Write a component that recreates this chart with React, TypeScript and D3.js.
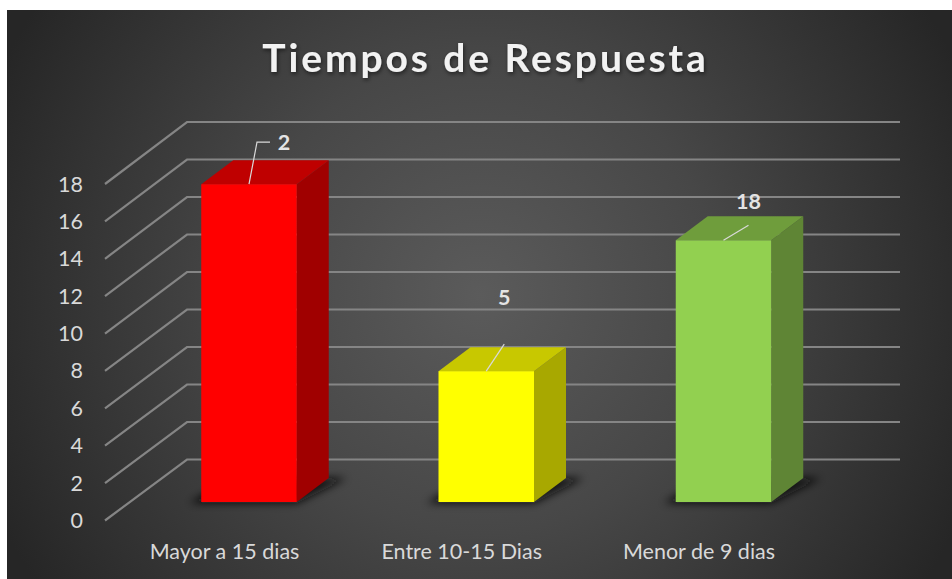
import React from "react";
import * as d3 from "d3";

const categories = ["Mayor a 15 dias", "Entre 10-15 Dias", "Menor de 9 dias"];
const values = [17, 7, 14];
const dataLabels = ["2", "5", "18"];
const frontColors = ["#ff0000", "#ffff00", "#92d050"];
const topColors = ["#bf0000", "#c8c800", "#6f9d3c"];
const sideColors = ["#a00000", "#a8a800", "#5f8535"];
const ticks = [0, 2, 4, 6, 8, 10, 12, 14, 16, 18];

const W = 952, H = 579;
const dx = 32, dy = -24;
const barW = 95.5;
const FONT = "Lato, Carlito, 'Open Sans', sans-serif";

const x = d3.scalePoint<string>().domain(categories).range([249, 723.5]);
const yBar = d3.scaleLinear().domain([0, 18]).range([502, 165.5]);
const yFront = d3.scaleLinear().domain([0, 18]).range([520.5, 184]);
const yBack = d3.scaleLinear().domain([0, 18]).range([459.5, 122]);
const gridFrontX = 105, gridBackX = 187, gridEndX = 900;

const leaders = [
  { pts: [[0, 0], [8, -42], [21, -42]], lx: 35, ly: -42 },
  { pts: [[0, 0], [18, -27]], lx: 18, ly: -74 },
  { pts: [[0, 0], [25, -15]], lx: 25, ly: -39 },
];

const poly = (p: number[][]) => p.map((q) => q.join(",")).join(" ");

export default function App() {
  return (
    <svg width={W} height={H} style={{ position: "absolute", left: 0, top: 0, background: "#fff" }} fontFamily={FONT}>
      <defs>
        <radialGradient id="bg" gradientUnits="userSpaceOnUse" cx={480} cy={295} r={530}>
          <stop offset="0" stopColor="#5b5b5b" />
          <stop offset="0.45" stopColor="#474747" />
          <stop offset="1" stopColor="#262626" />
        </radialGradient>
        <filter id="blur" x="-30%" y="-60%" width="160%" height="220%">
          <feGaussianBlur stdDeviation="4" />
        </filter>
        <filter id="ts" x="-5%" y="-20%" width="110%" height="150%">
          <feDropShadow dx="1" dy="2" stdDeviation="2" floodColor="#000" floodOpacity="0.55" />
        </filter>
      </defs>
      <rect x={7} y={10} width={W - 7} height={H - 10} fill="url(#bg)" />

      <text x={485.5} y={72} textAnchor="middle" fontSize={39} fontWeight={700} letterSpacing={2.9} fill="#f2f2f2" filter="url(#ts)">
        Tiempos de Respuesta
      </text>

      {ticks.map((t) => (
        <polyline key={t} fill="none" stroke="#858585" strokeWidth={2.2}
          points={poly([[gridFrontX, yFront(t)], [gridBackX, yBack(t)], [gridEndX, yBack(t)]])} />
      ))}
      {ticks.map((t) => (
        <text key={t} x={83} y={yFront(t) + 7.5} textAnchor="end" fontSize={21.5} fill="#d9d9d9">{t}</text>
      ))}

      {categories.map((c) => {
        const l = x(c)! - barW / 2;
        const b = yBar(0);
        return (
          <polygon key={c} filter="url(#blur)" fill="#111" fillOpacity={0.9}
            points={poly([[l - 12, b + 1], [l + barW, b + 1], [l + barW + dx + 18, b + dy], [l + dx, b + dy]])} />
        );
      })}

      {categories.map((c, i) => {
        const l = x(c)! - barW / 2, r = l + barW;
        const t = yBar(values[i]), b = yBar(0);
        return (
          <g key={c}>
            <polygon fill={sideColors[i]} points={poly([[r, t], [r + dx, t + dy], [r + dx, b + dy], [r, b]])} />
            <polygon fill={topColors[i]} points={poly([[l, t], [l + dx, t + dy], [r + dx, t + dy], [r, t]])} />
            <rect x={l} y={t} width={barW} height={b - t} fill={frontColors[i]} />
          </g>
        );
      })}

      {categories.map((c, i) => {
        const cx = x(c)!, t = yBar(values[i]);
        const ld = leaders[i];
        return (
          <g key={c}>
            <polyline fill="none" stroke="#d9d9d9" strokeWidth={1.2}
              points={poly(ld.pts.map(([a, e]) => [cx + a, t + e]))} />
            <text x={cx + ld.lx} y={t + ld.ly + 7.5} textAnchor="middle" fontSize={21.5} fontWeight={700} fill="#e3e3e3">
              {dataLabels[i]}
            </text>
          </g>
        );
      })}

      {categories.map((c) => (
        <text key={c} x={x(c)! - 24.5} y={559} textAnchor="middle" fontSize={21.5} fill="#d9d9d9">{c}</text>
      ))}
    </svg>
  );
}
